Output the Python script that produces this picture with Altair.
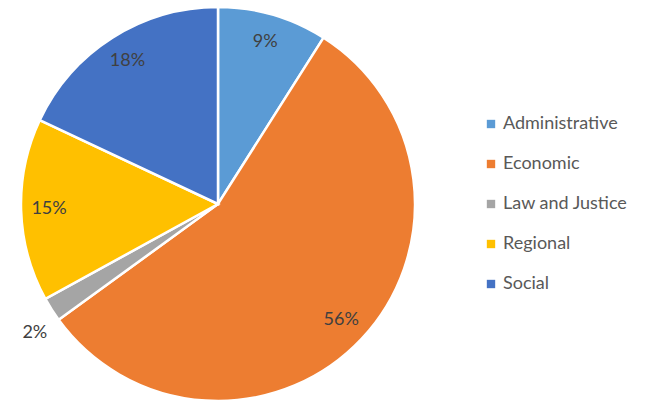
import altair as alt
import pandas as pd

categories = ["Administrative", "Economic", "Law and Justice", "Regional", "Social"]
values = [9, 56, 2, 15, 18]
colors = ["#5B9BD5", "#ED7D31", "#A5A5A5", "#FFC000", "#4472C4"]

df = pd.DataFrame({"category": categories, "value": values, "idx": list(range(len(values)))})

FONT = "Lato"
CX, CY, R = 210, 196, 197

base = alt.Chart(df).encode(
    theta=alt.Theta("value:Q", stack=True),
    order=alt.Order("idx:Q"),
)

arcs = base.mark_arc(stroke="white", strokeWidth=2.5, outerRadius=R, x=CX, y=CY).encode(
    color=alt.Color(
        "category:N",
        sort=categories,
        scale=alt.Scale(domain=categories, range=colors),
        legend=alt.Legend(
            title=None,
            orient="none",
            legendX=474,
            legendY=107,
            symbolType="square",
            symbolSize=70,
            symbolStrokeWidth=0,
            labelFont=FONT,
            labelFontSize=18,
            labelColor="#595959",
            rowPadding=22,
            labelOffset=3,
        ),
    )
)

inner = base.transform_calculate(
    lab="datum.value >= 5 ? datum.value + '%' : ''"
).mark_text(font=FONT, fontSize=18, color="#404040", x=CX, y=CY, radius=169).encode(
    text="lab:N",
)

outer = base.transform_calculate(
    lab="datum.value < 5 ? datum.value + '%' : ''"
).mark_text(font=FONT, fontSize=18, color="#404040", x=CX, y=CY, radius=224, dx=6, dy=9).encode(
    text="lab:N",
)

chart = alt.layer(arcs, inner, outer).properties(
    width=637,
    height=393,
    autosize=alt.AutoSizeParams(type="none"),
    padding=0,
).configure_view(stroke=None)

chart.save("out.html", embed_options={"renderer": "svg", "actions": False})
